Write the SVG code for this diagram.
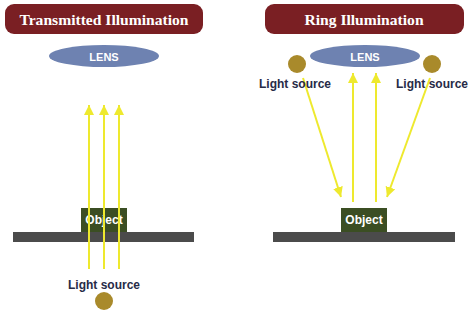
<svg xmlns="http://www.w3.org/2000/svg" width="474" height="316" viewBox="0 0 474 316">
<style>
.title{fill:#7A1F23}
.ttext{font-family:"Liberation Serif",serif;font-weight:bold;font-size:15.6px;fill:#fff;text-anchor:middle}
.lens{fill:#6E82B1}
.ltext{font-family:"Liberation Sans",sans-serif;font-weight:bold;font-size:11px;fill:#fff;text-anchor:middle}
.src{fill:#A98A2B}
.stext{font-family:"Liberation Sans",sans-serif;font-weight:bold;font-size:12px;fill:#272B47;text-anchor:middle}
.obj{fill:#3B4E23}
.otext{font-family:"Liberation Sans",sans-serif;font-weight:bold;font-size:12px;fill:#fff;text-anchor:middle}
.bar{fill:#4B4B4B}
.ray{stroke:#EEE92E;stroke-width:2;fill:none}
</style>
<defs>
<marker id="ah" markerUnits="userSpaceOnUse" markerWidth="10" markerHeight="10" viewBox="0 0 10 10" refX="10" refY="5" orient="auto">
<path d="M0,0 L10,5 L0,10 z" fill="#EEE92E"/>
</marker>
</defs>
<rect width="474" height="316" fill="#fff"/>
<g id="title-left"><rect class="title" x="5" y="4" width="198" height="30" rx="9"/><text class="ttext" x="104" y="25">Transmitted Illumination</text></g>
<g id="title-right"><rect class="title" x="265" y="4" width="199" height="30" rx="9"/><text class="ttext" x="364" y="25">Ring Illumination</text></g>
<g id="lens-left"><ellipse class="lens" cx="104" cy="56" rx="55" ry="11"/><text class="ltext" x="104" y="61">LENS</text></g>
<g id="lens-right"><ellipse class="lens" cx="365" cy="56" rx="55" ry="11"/><text class="ltext" x="365" y="61">LENS</text></g>
<g id="bar-left"><rect class="bar" x="13" y="232" width="181" height="10"/></g>
<g id="bar-right"><rect class="bar" x="273" y="232" width="182" height="10"/></g>
<g id="object-left"><rect class="obj" x="81" y="208" width="46" height="24"/><text class="otext" x="104" y="224">Object</text></g>
<g id="object-right"><rect class="obj" x="341" y="208" width="46" height="24"/><text class="otext" x="364" y="224">Object</text></g>
<g id="source-left-top"><circle class="src" cx="297" cy="64" r="9"/></g>
<g id="source-right-top"><circle class="src" cx="432" cy="64" r="9"/></g>
<g id="source-bottom"><circle class="src" cx="104" cy="301" r="9"/><text class="stext" x="104" y="289">Light source</text></g>
<g id="connectors">
<line class="ray" x1="89" y1="269" x2="89" y2="105" marker-end="url(#ah)"/>
<line class="ray" x1="104" y1="269" x2="104" y2="105" marker-end="url(#ah)"/>
<line class="ray" x1="119" y1="269" x2="119" y2="105" marker-end="url(#ah)"/>
<line class="ray" x1="353" y1="202" x2="353" y2="73" marker-end="url(#ah)"/>
<line class="ray" x1="376" y1="202" x2="376" y2="73" marker-end="url(#ah)"/>
<line class="ray" x1="303" y1="78" x2="341" y2="197" marker-end="url(#ah)"/>
<line class="ray" x1="430" y1="78" x2="387" y2="197" marker-end="url(#ah)"/>
</g>
<g id="labels-top"><text class="stext" x="295" y="88">Light source</text><text class="stext" x="432" y="88">Light source</text></g>
</svg>
